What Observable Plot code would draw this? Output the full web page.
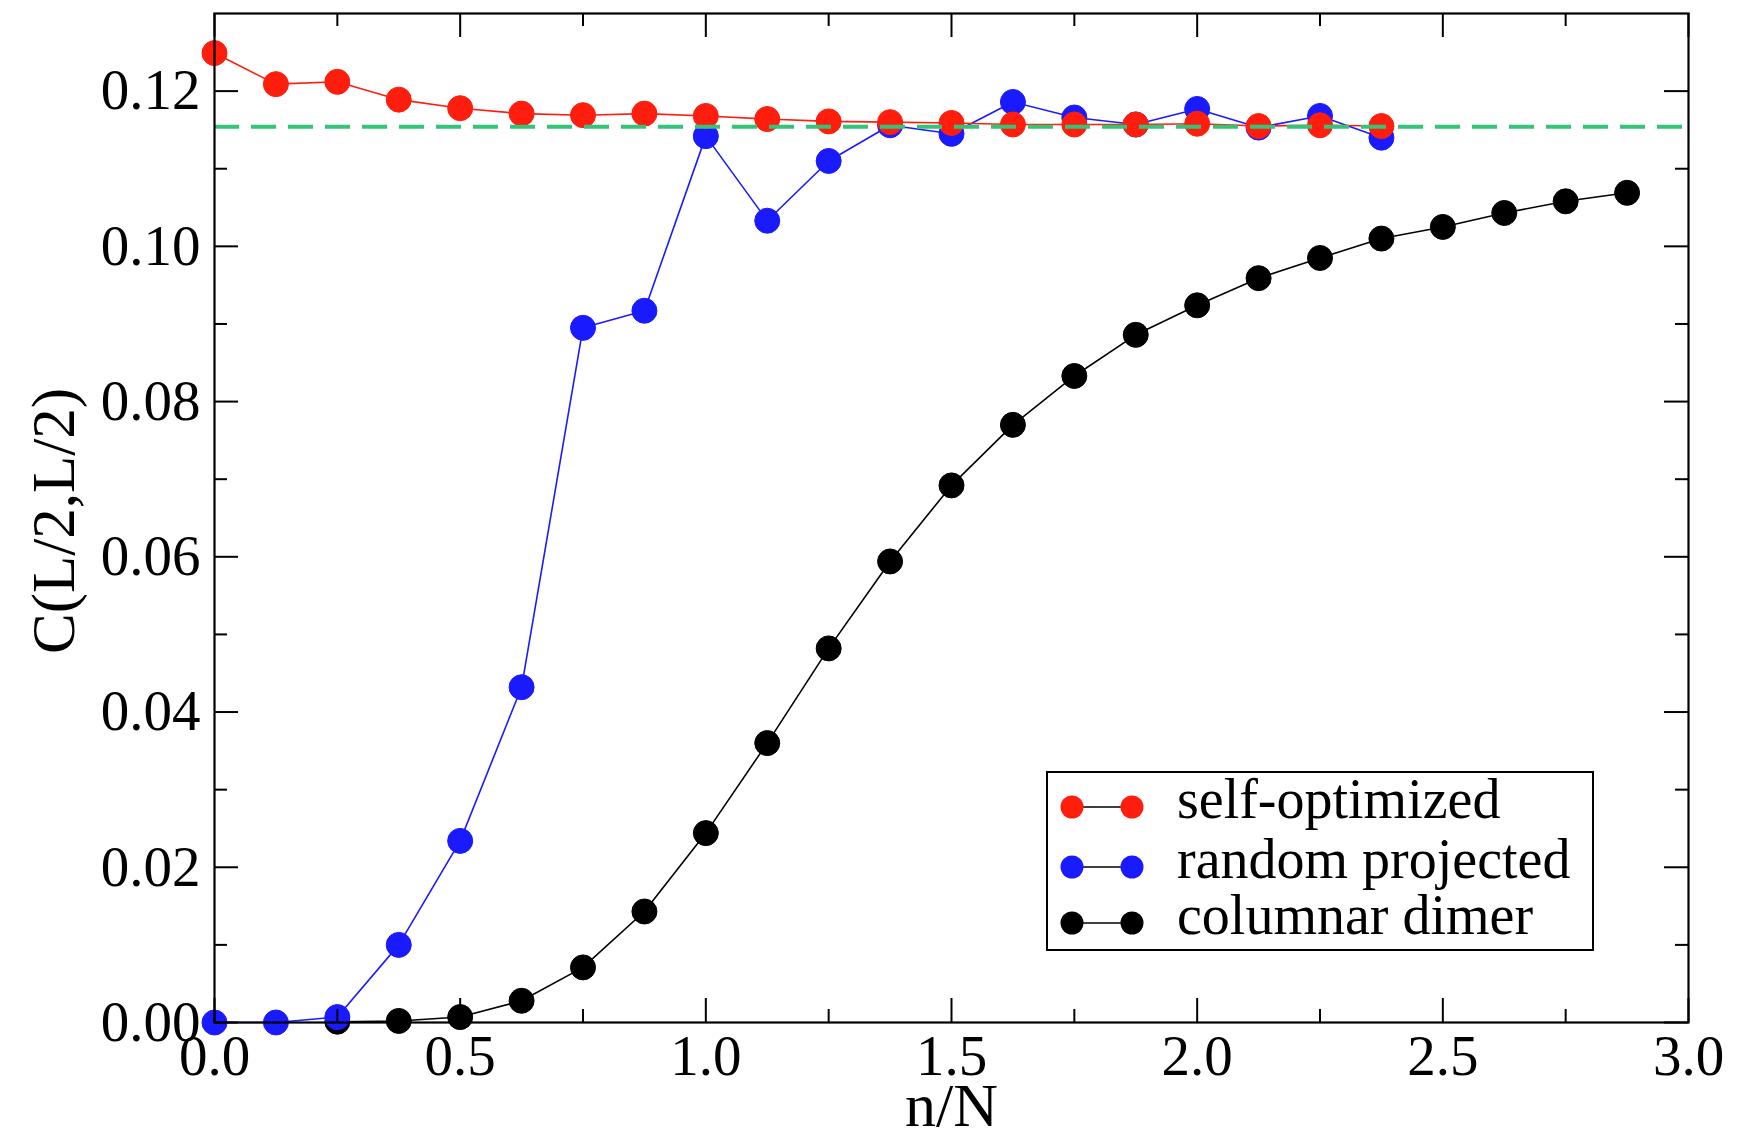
<!DOCTYPE html>
<html>
<head>
<meta charset="utf-8">
<script src="https://cdn.jsdelivr.net/npm/d3@7"></script>
<script src="https://cdn.jsdelivr.net/npm/@observablehq/plot@0.6"></script>
<style>
  html, body { margin: 0; padding: 0; background: #ffffff; }
  #wrap { position: relative; width: 1750px; height: 1139px; background: #ffffff; font-family: "Liberation Serif", "DejaVu Serif", serif; }
  #legend { position: absolute; overflow: visible; }
</style>
</head>
<body>
<div id="wrap"></div>
<script>
// ---- data ----
const xSelf = [0, 0.125, 0.25, 0.375, 0.5, 0.625, 0.75, 0.875, 1.0, 1.125, 1.25, 1.375, 1.5, 1.625, 1.75, 1.875, 2.0, 2.125, 2.25, 2.375];
const ySelf = [0.1249, 0.1209, 0.1212, 0.1189, 0.1178, 0.1171, 0.1169, 0.1171, 0.1168, 0.1164, 0.1161, 0.1160, 0.1159, 0.1157, 0.1157, 0.1157, 0.1158, 0.1155, 0.1156, 0.1155];

const xRandom = [0, 0.125, 0.25, 0.375, 0.5, 0.625, 0.75, 0.875, 1.0, 1.125, 1.25, 1.375, 1.5, 1.625, 1.75, 1.875, 2.0, 2.125, 2.25, 2.375];
const yRandom = [0, 0, 0.0007, 0.0100, 0.0234, 0.0432, 0.0895, 0.0917, 0.1142, 0.1033, 0.1110, 0.1156, 0.1145, 0.1186, 0.1166, 0.1157, 0.1177, 0.1153, 0.1168, 0.1140];

const xColumnar = [0.25, 0.375, 0.5, 0.625, 0.75, 0.875, 1.0, 1.125, 1.25, 1.375, 1.5, 1.625, 1.75, 1.875, 2.0, 2.125, 2.25, 2.375, 2.5, 2.625, 2.75, 2.875];
const yColumnar = [0.0001, 0.0002, 0.0007, 0.0028, 0.0071, 0.0143, 0.0244, 0.0360, 0.0482, 0.0594, 0.0692, 0.0770, 0.0833, 0.0886, 0.0924, 0.0959, 0.0985, 0.1010, 0.1025, 0.1043, 0.1058, 0.1069];

const referenceLevel = [0.1154];

const seriesNames = ["self-optimized", "random projected", "columnar dimer"];
const seriesColors = ["#ff1e0e", "#1a1aff", "#000000"];
const refColor = "#33c478";

const xMajorTicks = [0, 0.5, 1.0, 1.5, 2.0, 2.5, 3.0];
const xMinorTicks = [0.25, 0.75, 1.25, 1.75, 2.25, 2.75];
const yMajorTicks = [0, 0.02, 0.04, 0.06, 0.08, 0.10, 0.12];
const yMinorTicks = [0.01, 0.03, 0.05, 0.07, 0.09, 0.11];

const xLabel = "n/N";
const yLabel = "C(L/2,L/2)";

// ---- build tables ----
const toRows = (xs, ys) => xs.map((x, i) => ({x, y: ys[i]}));
const selfRows = toRows(xSelf, ySelf);
const randomRows = toRows(xRandom, yRandom);
const columnarRows = toRows(xColumnar, yColumnar);

// ---- layout ----
const W = 1750, H = 1139;
const mL = 214, mR = 62, mT = 13, mB = 117;
const plotW = W - mL - mR, plotH = H - mT - mB;
const majorLen = 24, minorLen = 13;
const R = 12.5;
const serif = "'Liberation Serif', 'DejaVu Serif', serif";

const seriesMarks = (rows, color) => [
  Plot.line(rows, {x: "x", y: "y", stroke: color, strokeWidth: 1.6}),
  Plot.dot(rows, {x: "x", y: "y", r: R, fill: color, stroke: color, strokeWidth: 1})
];

const chart = Plot.plot({
  width: W,
  height: H,
  marginLeft: mL,
  marginRight: mR,
  marginTop: mT,
  marginBottom: mB,
  style: {fontFamily: serif, background: "transparent", color: "#000"},
  x: {domain: [0, 3], label: null},
  y: {domain: [0, 0.13], label: null},
  marks: [
    ...seriesMarks(columnarRows, seriesColors[2]),
    ...seriesMarks(randomRows, seriesColors[1]),
    ...seriesMarks(selfRows, seriesColors[0]),
    Plot.ruleY(referenceLevel, {y: d => d, stroke: refColor, strokeWidth: 4, strokeDasharray: "25,12"}),
    // inward ticks on all four sides
    Plot.tickX(xMajorTicks, {x: d => d, stroke: "#000", strokeWidth: 2, insetTop: plotH - majorLen}),
    Plot.tickX(xMinorTicks, {x: d => d, stroke: "#000", strokeWidth: 2, insetTop: plotH - minorLen}),
    Plot.tickX(xMajorTicks, {x: d => d, stroke: "#000", strokeWidth: 2, insetBottom: plotH - majorLen}),
    Plot.tickX(xMinorTicks, {x: d => d, stroke: "#000", strokeWidth: 2, insetBottom: plotH - minorLen}),
    Plot.tickY(yMajorTicks, {y: d => d, stroke: "#000", strokeWidth: 2, insetRight: plotW - majorLen}),
    Plot.tickY(yMinorTicks, {y: d => d, stroke: "#000", strokeWidth: 2, insetRight: plotW - minorLen}),
    Plot.tickY(yMajorTicks, {y: d => d, stroke: "#000", strokeWidth: 2, insetLeft: plotW - majorLen}),
    Plot.tickY(yMinorTicks, {y: d => d, stroke: "#000", strokeWidth: 2, insetLeft: plotW - minorLen}),
    Plot.frame({stroke: "#000", strokeWidth: 2.2}),
    Plot.axisX(xMajorTicks, {tickSize: 0, tickPadding: 12, tickFormat: d3.format(".1f"), fontSize: 57, label: null}),
    Plot.axisY(yMajorTicks, {tickSize: 0, tickPadding: 14, tickFormat: d3.format(".2f"), fontSize: 57, label: null}),
    Plot.text([xLabel], {text: d => d, frameAnchor: "bottom", textAnchor: "middle", lineAnchor: "middle", dy: 84, fontSize: 62}),
    Plot.text([yLabel], {text: d => d, frameAnchor: "left", textAnchor: "middle", lineAnchor: "middle", dx: -160, dy: 3, rotate: -90, fontSize: 61})
  ]
});

const wrap = document.getElementById("wrap");
wrap.appendChild(chart);

// ---- legend box inside the plot area ----
const pad = 24;
const legW = 548, legH = 180, legLeft = 1046, legTop = 771;
const legend = d3.create("svg")
  .attr("id", "legend")
  .attr("width", legW + 2 * pad)
  .attr("height", legH + 2 * pad)
  .style("left", (legLeft - pad) + "px")
  .style("top", (legTop - pad) + "px");
const lg = legend.append("g").attr("transform", `translate(${pad},${pad})`);
lg.append("rect")
  .attr("x", 1).attr("y", 1)
  .attr("width", legW - 2).attr("height", legH - 2)
  .attr("fill", "#ffffff").attr("stroke", "#000").attr("stroke-width", 2);
const rowCenters = [36, 96, 152];
seriesNames.forEach((name, i) => {
  const g = lg.append("g").attr("transform", `translate(0,${rowCenters[i]})`);
  g.append("line").attr("x1", 26).attr("x2", 86).attr("y1", 0).attr("y2", 0)
    .attr("stroke", "#000").attr("stroke-width", 1.6);
  g.append("circle").attr("cx", 26).attr("cy", 0).attr("r", 11.5).attr("fill", seriesColors[i]);
  g.append("circle").attr("cx", 86).attr("cy", 0).attr("r", 11.5).attr("fill", seriesColors[i]);
  g.append("text").attr("x", 131).attr("y", 11)
    .attr("font-family", serif)
    .attr("font-size", 56).attr("fill", "#000").text(name);
});
wrap.appendChild(legend.node());
</script>
</body>
</html>
